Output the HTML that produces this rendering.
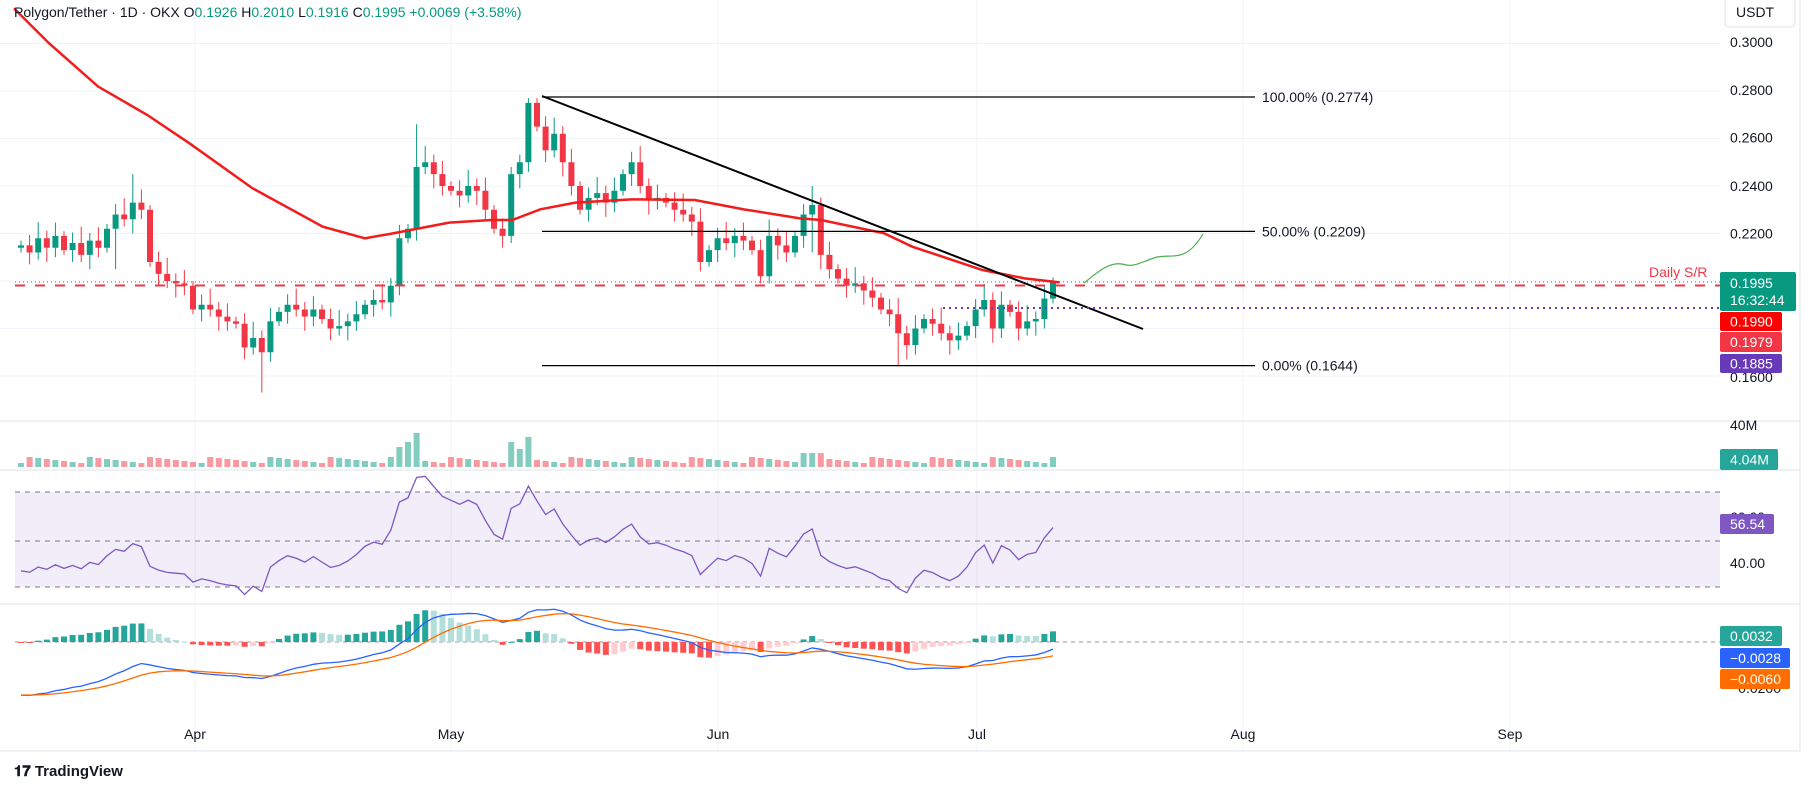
<!DOCTYPE html>
<html><head><meta charset="utf-8"><style>
body{margin:0;background:#fff;width:1814px;height:793px;overflow:hidden;font-family:"Liberation Sans",sans-serif}
svg text{font-family:"Liberation Sans",sans-serif}
</style></head><body>
<svg id="s" width="1814" height="793" xmlns="http://www.w3.org/2000/svg"></svg>
<script>
const S=document.getElementById('s');let h='';
const closes=[.215,.212,.218,.214,.219,.213,.216,.211,.217,.214,.222,.228,.226,.233,.230,.208,.203,.200,.199,.198,
.188,.190,.188,.185,.183,.182,.172,.176,.170,.183,.187,.190,.188,.185,.188,.184,.180,.181,.183,.186,.190,.192,.191,.198,.218,.222,.248,.250,.245,.240,
.238,.236,.240,.238,.230,.222,.219,.245,.250,.275,.265,.255,.262,.250,.240,.230,.235,.237,.233,.238,.245,.250,.240,.234,.235,.233,.230,.228,.225,.208,.213,
.218,.216,.219,.217,.213,.202,.219,.215,.212,.219,.228,.232,.211,.205,.201,.198,.199,.196,.193,.188,.186,.178,.173,.180,.184,.182,.178,.175,.177,.181,
.188,.192,.180,.190,.187,.180,.183,.184,.1926,.1995];
const N=closes.length;
const X=i=>1053-(N-1-i)*8.6;
const Y=p=>233.5+(0.22-p)*2375;
const months=[['Apr',195],['May',451],['Jun',718],['Jul',977],['Aug',1243],['Sep',1510]];
months.forEach(m=>h+=`<line x1="${m[1]}" y1="0" x2="${m[1]}" y2="751" stroke="#f0f3fa"/>`);
[0.30,0.28,0.26,0.24,0.22,0.20,0.18,0.16].forEach(p=>h+=`<line x1="0" x2="1720" y1="${Y(p)}" y2="${Y(p)}" stroke="#f0f3fa"/>`);
[421,470,604].forEach(y=>h+=`<line x1="0" x2="1800" y1="${y}" y2="${y}" stroke="#e0e3eb"/>`);
h+=`<line x1="1800" x2="1800" y1="0" y2="751" stroke="#e0e3eb"/><line x1="0" x2="1800" y1="751" y2="751" stroke="#e0e3eb"/>`;
const wick={13:.245,46:.266,59:.277,92:.240,57:.248};const lowW={28:.153,92:.212,102:.164,86:.199,11:.205};
let prev=.214;
for(let i=0;i<N;i++){const c=closes[i],o=i==N-1?.1926:prev;const up=c>=o;const col=up?'#089981':'#f23645';
 let hi=Math.max(o,c)+0.002+((i*7)%5)*0.0012,lo=Math.min(o,c)-0.002-((i*3)%5)*0.001;
 if(wick[i])hi=wick[i];if(lowW[i])lo=lowW[i];
 const x=X(i);h+=`<line x1="${x}" x2="${x}" y1="${Y(hi)}" y2="${Y(lo)}" stroke="${col}"/>`;
 const t=Y(Math.max(o,c)),b=Y(Math.min(o,c));h+=`<rect x="${x-3}" y="${t}" width="6" height="${Math.max(1,b-t)}" fill="${col}"/>`;
 let v=4+((i*13)%7);if([44,45,46,57,58,59].includes(i))v=16+((i*5)%12);if([91,92,93].includes(i))v=14;if(i==46)v=34;if(i==59)v=30;
 h+=`<rect x="${x-3}" y="${467-v}" width="6" height="${v}" fill="${up?'rgba(8,153,129,0.5)':'rgba(242,54,69,0.5)'}"/>`;
 prev=c;}
const ema=[[20,25],[70,130],[140,260],[210,345],[270,430],[360,565],[460,680],[520,715],[560,700],[640,668],[700,660],[730,660],[770,628],[820,608],[900,598],[990,600],[1060,628],[1140,655],[1170,660],[1260,700],[1300,740],[1400,810],[1460,835],[1510,847]].map(p=>[p[0]/1.425,p[1]/3]);
h+=`<polyline points="${ema.map(p=>p.join(',')).join(' ')}" fill="none" stroke="#f21c1c" stroke-width="2.5"/>`;
[[97,'100.00% (0.2774)'],[231.4,'50.00% (0.2209)'],[365.6,'0.00% (0.1644)']].forEach(f=>{h+=`<line x1="542" x2="1255" y1="${f[0]}" y2="${f[0]}" stroke="#000" stroke-width="1.3"/><text x="1262" y="${f[0]+5}" font-size="14" fill="#131722">${f[1]}</text>`});
h+=`<line x1="542" y1="96" x2="1143" y2="329" stroke="#000" stroke-width="2"/>`;
h+=`<line x1="15" x2="1720" y1="282" y2="282" stroke="#089981" stroke-dasharray="1,3"/>`;
h+=`<line x1="15" x2="1720" y1="285.5" y2="285.5" stroke="#f23645" stroke-width="2" stroke-dasharray="10,10"/>`;
h+=`<line x1="943" x2="1720" y1="308" y2="308" stroke="#673ab7" stroke-width="2" stroke-dasharray="2,4"/>`;
h+=`<text x="1649" y="277" font-size="14" fill="#f23645">Daily S/R</text>`;
h+=`<path d="M1084,283 C1100,270 1110,262 1122,264 C1135,268 1140,262 1157,257 C1175,254 1186,262 1203,234" fill="none" stroke="#4caf50" stroke-width="1.2"/>`;
h+=`<rect x="15" y="492" width="1705" height="95" fill="rgba(126,87,194,0.1)"/>`;
[492,541,587].forEach(y=>h+=`<line x1="15" x2="1720" y1="${y}" y2="${y}" stroke="#787b86" stroke-dasharray="5,5"/>`);
const pre=[];for(let k=0;k<60;k++)pre.push(.42-k*0.0034+(k%2?0.007:-0.007));
const all=pre.concat(closes);let ag=0,al=0;const rsi=[];
for(let i=1;i<all.length;i++){const d=all[i]-all[i-1];const g=Math.max(d,0),l=Math.max(-d,0);if(i<=14){ag+=g/14;al+=l/14}else{ag=(ag*13+g)/14;al=(al*13+l)/14}rsi.push(100-100/(1+ag/(al||1e-9)));}
const ro=rsi.slice(rsi.length-N);
h+=`<polyline points="${ro.map((r,i)=>X(i)+','+(541-(r-50)*2.35)).join(' ')}" fill="none" stroke="#7e57c2" stroke-width="1.3"/>`;
const E=(arr,n)=>{const k=2/(n+1);let e=arr[0];return arr.map(v=>e=v*k+e*(1-k))};
const e12=E(all,12),e26=E(all,26);const macd=e12.map((v,i)=>v-e26[i]);const sig=E(macd,9);
const off=all.length-N;const MY=v=>642-v*2300;
h+=`<line x1="15" x2="1720" y1="642" y2="642" stroke="#9598a1" stroke-dasharray="4,4"/>`;
for(let i=0;i<N;i++){const hv=macd[off+i]-sig[off+i],hp=macd[off+i-1]-sig[off+i-1];let col=hv>=0?(hv>hp?'#26a69a':'#b2dfdb'):(hv<hp?'#ff5252':'#ffcdd2');const y=MY(hv*1.6);h+=`<rect x="${X(i)-3}" y="${Math.min(y,642)}" width="6" height="${Math.max(1,Math.abs(y-642))}" fill="${col}"/>`;}
h+=`<polyline points="${macd.slice(off).map((v,i)=>X(i)+','+MY(v)).join(' ')}" fill="none" stroke="#2962ff" stroke-width="1.3"/>`;
h+=`<polyline points="${sig.slice(off).map((v,i)=>X(i)+','+MY(v)).join(' ')}" fill="none" stroke="#ff6d00" stroke-width="1.3"/>`;
[['0.3000',42],['0.2800',90],['0.2600',137.6],['0.2400',186],['0.2200',233.5],['0.1600',377],['40M',425],['60.00',517],['40.00',563],['−0.0200',688]].forEach(t=>h+=`<text x="1730" y="${t[1]+5}" font-size="14" fill="#131722">${t[0]}</text>`);
h+=`<rect x="1725" y="-4" width="70" height="31" rx="4" fill="#fff" stroke="#e0e3eb"/><text x="1736" y="17" font-size="14" fill="#131722">USDT</text>`;
const box=(y1,y2,w,col,txt,t2)=>{h+=`<rect x="1720" y="${y1}" width="${w}" height="${y2-y1}" rx="2" fill="${col}"/><text x="1730" y="${t2?y1+16:(y1+y2)/2+5}" font-size="14" fill="#fff">${txt}</text>`;if(t2)h+=`<text x="1730" y="${y1+33}" font-size="14" fill="#fff">${t2}</text>`};
box(272,311,76,'#089981','0.1995','16:32:44');box(312,331,62,'#ff0000','0.1990');box(332,352,62,'#f23645','0.1979');box(354,373,62,'#673ab7','0.1885');
box(449,470,58,'#26a69a','4.04M');box(514,534,54,'#7e57c2','56.54');
box(626,646,62,'#26a69a','0.0032');box(648,668,70,'#2962ff','−0.0028');box(669,689,70,'#ff6d00','−0.0060');
months.forEach(m=>h+=`<text x="${m[1]}" y="739" font-size="14" fill="#131722" text-anchor="middle">${m[0]}</text>`);
h+=`<text x="14" y="17" font-size="14" fill="#131722">Polygon/Tether · 1D · OKX  <tspan>O</tspan><tspan fill="#089981">0.1926</tspan>  H<tspan fill="#089981">0.2010</tspan>  L<tspan fill="#089981">0.1916</tspan>  C<tspan fill="#089981">0.1995  +0.0069 (+3.58%)</tspan></text>`;
h+=`<text x="14" y="776" font-size="15" font-weight="bold" fill="#131722">𝟏𝟕 TradingView</text>`;
S.innerHTML=h;
</script>
</body></html>
